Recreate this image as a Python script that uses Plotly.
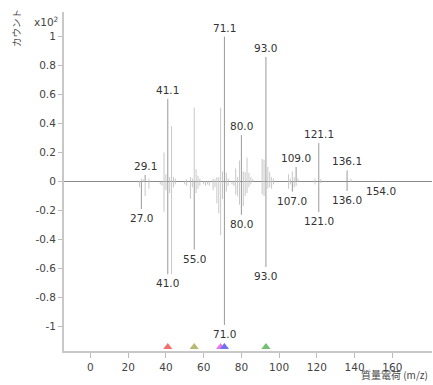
import plotly.graph_objects as go

# ---------------- data ----------------
top_mz = [27, 28, 29, 31, 39, 40, 41, 42, 43, 44, 45, 51, 53, 54, 55, 56, 57, 58,
          65, 66, 67, 68, 69, 70, 71, 72, 73, 77, 78, 79, 80, 81, 82, 83, 84, 85, 86,
          91, 92, 93, 94, 95, 96, 97, 105, 106, 107, 108, 109, 110, 119, 121, 122, 136, 138]
top_int = [0.02, 0.015, 0.045, 0.02, 0.20, 0.05, 0.57, 0.03, 0.38, 0.03, 0.02, 0.015, 0.03, 0.02, 0.51, 0.085, 0.04, 0.02,
           0.02, 0.015, 0.03, 0.03, 0.51, 0.07, 1.0, 0.06, 0.02, 0.09, 0.03, 0.145, 0.32, 0.07, 0.065, 0.165, 0.06, 0.03, 0.015,
           0.155, 0.15, 0.86, 0.10, 0.065, 0.03, 0.02, 0.05, 0.02, 0.07, 0.03, 0.10, 0.02, 0.02, 0.265, 0.015, 0.076, 0.02]
top_labels_mz = [29, 41, 71, 80, 93, 109, 121, 136]
top_labels = ["29.1", "41.1", "71.1", "80.0", "93.0", "109.0", "121.1", "136.1"]

bot_mz = [26, 27, 29, 31, 37, 38, 39, 40, 41, 42, 43, 44, 45, 50, 51, 53, 54, 55, 56, 57, 58,
          60, 61, 62, 63, 65, 66, 67, 68, 69, 70, 71, 72, 73, 75, 76, 77, 78, 79, 80, 81, 82, 83, 84, 85,
          91, 92, 93, 94, 95, 96, 97, 105, 106, 107, 108, 109, 119, 121, 122, 136, 154]
bot_int = [-0.04, -0.19, -0.10, -0.05, -0.02, -0.03, -0.21, -0.06, -0.64, -0.08, -0.64, -0.04, -0.02, -0.02, -0.03,
           -0.12, -0.04, -0.47, -0.08, -0.05, -0.03,
           -0.02, -0.03, -0.02, -0.03, -0.06, -0.04, -0.15, -0.22, -0.37, -0.12, -0.99, -0.07, -0.03, -0.02, -0.03,
           -0.09, -0.10, -0.16, -0.23, -0.17, -0.10, -0.08, -0.04, -0.02,
           -0.09, -0.10, -0.59, -0.05, -0.04, -0.05, -0.02, -0.05, -0.02, -0.07, -0.04, -0.03, -0.02, -0.21, -0.01,
           -0.065, -0.005]
bot_labels_mz = [27, 41, 55, 71, 80, 93, 107, 121, 136, 154]
bot_labels = ["27.0", "41.0", "55.0", "71.0", "80.0", "93.0", "107.0", "121.0", "136.0", "154.0"]

marker_mz = [41, 55, 69, 71, 93]
marker_colors = ["#f07070", "#b9b972", "#ee72ee", "#7070f2", "#72c072"]

x_ticks = [0, 20, 40, 60, 80, 100, 120, 140, 160]
y_ticks = [-1, -0.8, -0.6, -0.4, -0.2, 0, 0.2, 0.4, 0.6, 0.8, 1]
y_tick_text = ["-1", "-0.8", "-0.6", "-0.4", "-0.2", "0", "0.2", "0.4", "0.6", "0.8", "1"]

FONT = "DejaVu Sans"
LIGHT = "#c8c8c8"
DARK = "#999999"


def sticks(mzs, vals, keep):
    xs, ys = [], []
    for m, v in zip(mzs, vals):
        if keep(m):
            xs += [m, m, None]
            ys += [0, v, None]
    return xs, ys


fig = go.Figure()

# light (unlabeled) peaks
for mzs, vals, labs in [(top_mz, top_int, top_labels_mz), (bot_mz, bot_int, bot_labels_mz)]:
    xs, ys = sticks(mzs, vals, lambda m, labs=labs: m not in labs)
    fig.add_trace(go.Scatter(x=xs, y=ys, mode="lines", line=dict(color=LIGHT, width=1),
                             hoverinfo="skip", showlegend=False))
# dark (labeled) peaks
for mzs, vals, labs in [(top_mz, top_int, top_labels_mz), (bot_mz, bot_int, bot_labels_mz)]:
    xs, ys = sticks(mzs, vals, lambda m, labs=labs: m in labs)
    fig.add_trace(go.Scatter(x=xs, y=ys, mode="lines", line=dict(color=DARK, width=1),
                             hoverinfo="skip", showlegend=False))

# peak labels
top_lookup = dict(zip(top_mz, top_int))
bot_lookup = dict(zip(bot_mz, bot_int))
for m, t in zip(top_labels_mz, top_labels):
    fig.add_annotation(x=m, y=top_lookup[m], text=t, showarrow=False, yanchor="bottom",
                       yshift=1, font=dict(family=FONT, size=10.5, color="#333333"))
for m, t in zip(bot_labels_mz, bot_labels):
    fig.add_annotation(x=m, y=bot_lookup[m], text=t, showarrow=False, yanchor="top",
                       yshift=-1, font=dict(family=FONT, size=10.5, color="#333333"))

# triangle markers on the x axis
fig.add_trace(go.Scatter(x=marker_mz, y=[-1.142] * len(marker_mz), mode="markers",
                         marker=dict(symbol="triangle-up", size=8, color=marker_colors, line=dict(width=0)),
                         cliponaxis=False, hoverinfo="skip", showlegend=False))

fig.update_layout(
    template="none",
    width=433, height=385,
    margin=dict(l=64, r=1, t=12, b=34, autoexpand=False),
    paper_bgcolor="white", plot_bgcolor="white",
    font=dict(family=FONT, size=10.5, color="#444444"),
    xaxis=dict(range=[-14, 181], tickvals=x_ticks, showgrid=False, zeroline=False, automargin=False,
               showline=True, linecolor="#c8c8c8", linewidth=2,
               ticks="outside", ticklen=5, tickcolor="#bbbbbb", tickwidth=1,
               tickfont=dict(family=FONT, size=10.5, color="#444444")),
    yaxis=dict(range=[-1.17, 1.17], tickvals=y_ticks, ticktext=y_tick_text, showgrid=False, automargin=False,
               zeroline=True, zerolinecolor="#8a8a8a", zerolinewidth=1,
               showline=True, linecolor="#c8c8c8", linewidth=2,
               ticks="outside", ticklen=4, tickcolor="#bbbbbb", tickwidth=1,
               tickfont=dict(family=FONT, size=10.5, color="#444444")),
)

fig.add_annotation(xref="paper", yref="paper", x=(32 - 64) / 368, y=(351 - 21) / 339,
                   text="x10<sup>2</sup>", showarrow=False, xanchor="left", yanchor="middle",
                   font=dict(family=FONT, size=10.5, color="#444444"))
fig.add_annotation(xref="paper", yref="paper", x=(16 - 64) / 368, y=(351 - 28) / 339,
                   text="カウント", textangle=-90, showarrow=False, xanchor="center", yanchor="middle",
                   font=dict(family="Noto Sans CJK JP", size=9.5, color="#444444"))
fig.add_annotation(xref="paper", yref="paper", x=(430 - 64) / 368, y=(351 - 384) / 339,
                   text="質量電荷 (m/z)", showarrow=False, xanchor="right", yanchor="bottom",
                   font=dict(family="Noto Sans CJK JP", size=10, color="#444444"))

fig.write_html("out.html", config={"displayModeBar": False},
               post_script="document.body.style.margin='0';document.body.style.overflow='hidden';")
